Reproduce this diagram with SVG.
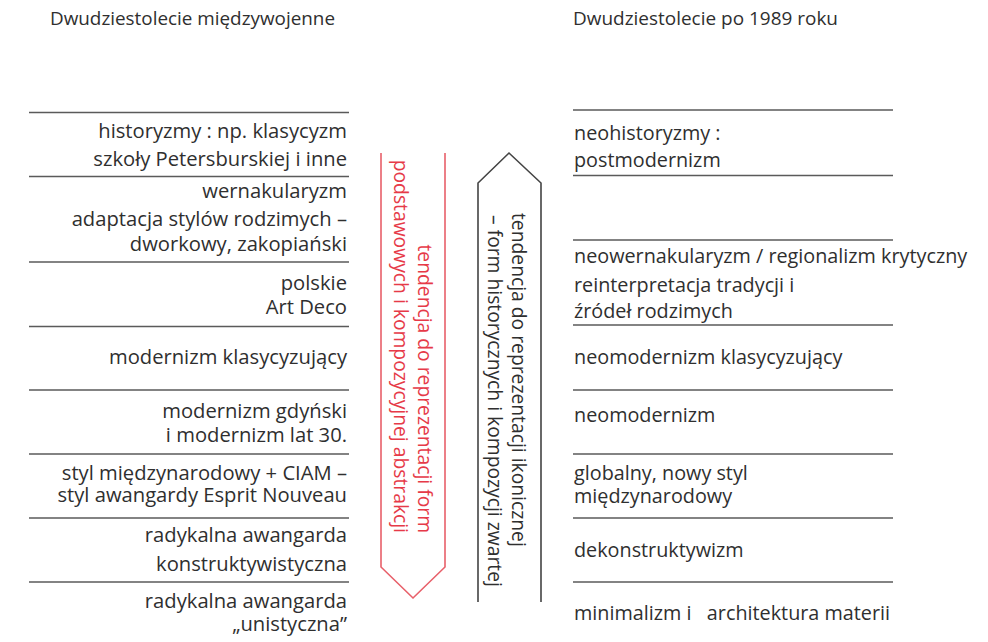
<svg xmlns="http://www.w3.org/2000/svg" width="988" height="642" viewBox="0 0 988 642">
<style>
text{font-family:"Open Sans","Noto Sans","Liberation Sans",sans-serif;fill:#2f2f2f}
.h{font-size:18px}
.l{font-size:20.2px;text-anchor:end}
.r{font-size:19.8px}
.sep{stroke:#5a5a5a;stroke-width:1.6;fill:none}
.red{fill:#e63a48;font-size:19.3px}
.blk{fill:#2f2f2f;font-size:19.3px}
</style>
<rect width="988" height="642" fill="#fff"/>
<g id="headers">
<text class="h" x="50" y="25" textLength="285" lengthAdjust="spacingAndGlyphs">Dwudziestolecie międzywojenne</text>
<text class="h" x="573" y="25" textLength="265" lengthAdjust="spacingAndGlyphs">Dwudziestolecie po 1989 roku</text>
</g>
<g id="connectors">
<g class="sep">
<line x1="29" y1="112.5" x2="349" y2="112.5"/>
<line x1="29" y1="176.5" x2="349" y2="176.5"/>
<line x1="29" y1="262" x2="349" y2="262"/>
<line x1="29" y1="326.5" x2="349" y2="326.5"/>
<line x1="29" y1="390" x2="349" y2="390"/>
<line x1="29" y1="454" x2="349" y2="454"/>
<line x1="29" y1="518" x2="349" y2="518"/>
<line x1="29" y1="582" x2="349" y2="582"/>
<line x1="573" y1="110" x2="893" y2="110"/>
<line x1="573" y1="175.5" x2="893" y2="175.5"/>
<line x1="573" y1="240" x2="893" y2="240"/>
<line x1="573" y1="325" x2="893" y2="325"/>
<line x1="573" y1="390" x2="893" y2="390"/>
<line x1="573" y1="454" x2="893" y2="454"/>
<line x1="573" y1="518" x2="893" y2="518"/>
<line x1="573" y1="582" x2="893" y2="582"/>
</g>
</g>
<g id="arrow-abstrakcja">
<path d="M381,153 L381,567 L413,598 L445,567 L445,153" fill="none" stroke="#e8606a" stroke-width="1.6"/>
<text class="red" transform="translate(418,533) rotate(90)" text-anchor="end">tendencja do reprezentacji form</text>
<text class="red" transform="translate(394,533) rotate(90)" text-anchor="end">podstawowych i kompozycyjnej abstrakcji</text>
</g>
<g id="arrow-ikonicznosc">
<path d="M478,602 L478,183 L509,153 L541,183 L541,602" fill="none" stroke="#444" stroke-width="1.6"/>
<text class="blk" transform="translate(512,213) rotate(90)">tendencja do reprezentacji ikonicznej</text>
<text class="blk" transform="translate(488,215) rotate(90)">– form historycznych i kompozycji zwartej</text>
</g>
<g id="left-historyzmy"><text class="l" x="347" y="138">historyzmy : np. klasycyzm</text><text class="l" x="347" y="166">szkoły Petersburskiej i inne</text></g>
<g id="left-wernakularyzm"><text class="l" x="347" y="198">wernakularyzm</text><text class="l" x="347" y="226">adaptacja stylów rodzimych –</text><text class="l" x="347" y="251">dworkowy, zakopiański</text></g>
<g id="left-artdeco"><text class="l" x="347" y="290">polskie</text><text class="l" x="347" y="314">Art Deco</text></g>
<g id="left-modklas"><text class="l" x="347" y="364">modernizm klasycyzujący</text></g>
<g id="left-gdynski"><text class="l" x="347" y="418">modernizm gdyński</text><text class="l" x="347" y="442">i modernizm lat 30.</text></g>
<g id="left-styl"><text class="l" x="347" y="480">styl międzynarodowy + CIAM –</text><text class="l" x="347" y="502">styl awangardy Esprit Nouveau</text></g>
<g id="left-konstrukt"><text class="l" x="347" y="542">radykalna awangarda</text><text class="l" x="347" y="571">konstruktywistyczna</text></g>
<g id="left-unizm"><text class="l" x="347" y="608">radykalna awangarda</text><text class="l" x="347" y="631">„unistyczna”</text></g>
<g id="right-neohist"><text class="r" x="574" y="140">neohistoryzmy :</text><text class="r" x="574" y="167">postmodernizm</text></g>
<g id="right-neowern"><text class="r" x="574" y="263">neowernakularyzm / regionalizm krytyczny</text><text class="r" x="574" y="292">reinterpretacja tradycji i</text><text class="r" x="574" y="318">źródeł rodzimych</text></g>
<g id="right-neomodklas"><text class="r" x="574" y="364">neomodernizm klasycyzujący</text></g>
<g id="right-neomod"><text class="r" x="574" y="422">neomodernizm</text></g>
<g id="right-global"><text class="r" x="574" y="480">globalny, nowy styl</text><text class="r" x="574" y="503">międzynarodowy</text></g>
<g id="right-dekon"><text class="r" x="574" y="557">dekonstruktywizm</text></g>
<g id="right-minimal"><text class="r" x="574" y="620" xml:space="preserve">minimalizm i   architektura materii</text></g>
</svg>
